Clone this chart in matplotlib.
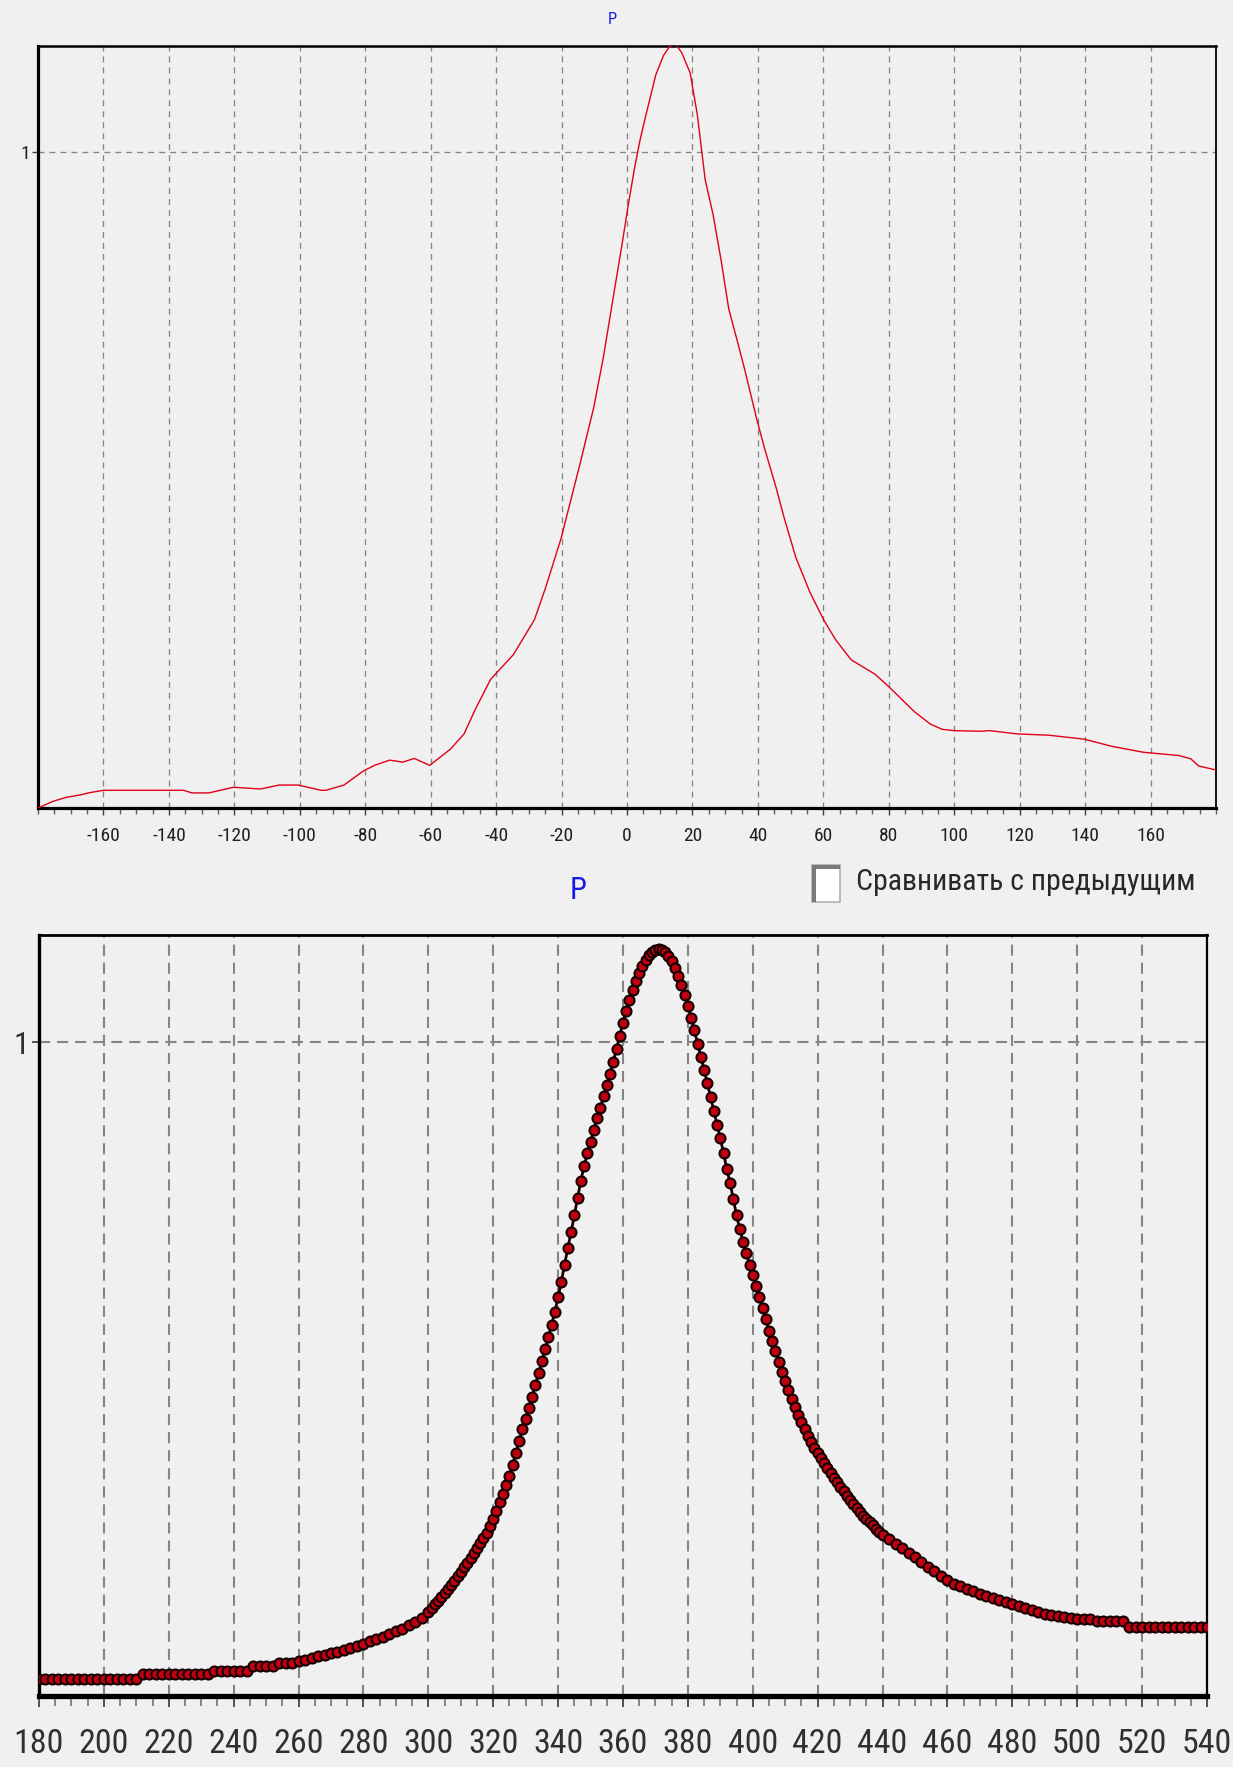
import matplotlib
matplotlib.use("Agg")
import matplotlib.pyplot as plt
from matplotlib import font_manager as fm
from matplotlib.font_manager import FontProperties
from matplotlib.patches import Rectangle
from matplotlib.ticker import MultipleLocator, FixedLocator

plt.rcParams['axes.unicode_minus'] = False
plt.rcParams['lines.scale_dashes'] = False

# ---------------- data: top panel (angle vs P) ----------------
top_x = [-180, -175.5, -171.6, -167, -164.6, -160, -150, -140, -135.5, -133,
         -127.8, -120.3, -112, -106.3, -100.5, -93.5, -92, -86.5, -80.7,
         -77.2, -72.5, -68.5, -65, -60.3, -53.9, -49.8, -46.3, -41.7, -34.7,
         -28.3, -24.8, -20.1, -14.3, -10.2, -7.3, -3.8, -1.5, 0.4, 2.2, 4,
         5.8, 8.8, 11.2, 13, 14.8, 16.7, 19.3, 21.5, 23.9, 26.3, 28.7, 31.1,
         33.5, 35.9, 39.6, 42, 45.6, 48, 51.6, 55.9, 60.1, 63.7, 68.5, 75.8,
         80, 87.8, 92.7, 96.3, 99.9, 108.3, 110.8, 119.2, 128.9, 139.7, 148.2,
         157.8, 168.7, 172.3, 174.7, 180]
top_p = [0.0, 0.010, 0.016, 0.020, 0.023, 0.027, 0.027, 0.027, 0.027, 0.023,
         0.023, 0.0316, 0.029, 0.035, 0.035, 0.027, 0.027, 0.035, 0.056,
         0.065, 0.073, 0.070, 0.0756, 0.065, 0.090, 0.113, 0.151, 0.196, 0.234,
         0.287, 0.337, 0.412, 0.526, 0.610, 0.685, 0.791, 0.860, 0.920, 0.973,
         1.019, 1.057, 1.118, 1.148, 1.161, 1.165, 1.152, 1.121, 1.057, 0.958,
         0.905, 0.837, 0.761, 0.716, 0.670, 0.594, 0.549, 0.488, 0.443, 0.382,
         0.329, 0.287, 0.257, 0.226, 0.204, 0.185, 0.147, 0.128, 0.120, 0.118,
         0.117, 0.118, 0.113, 0.111, 0.105, 0.094, 0.085, 0.080, 0.075, 0.064,
         0.058]

top_ticks = [-160, -140, -120, -100, -80, -60, -40, -20, 0, 20, 40, 60, 80,
             100, 120, 140, 160]

# ---------------- data: bottom panel (wavelength vs P) ----------------
bot_x = (list(range(180, 300, 2)) + list(range(300, 441, 1)) +
         list(range(442, 541, 2)))
bot_p = [
    # 180 .. 298 step 2
    0.026, 0.026, 0.026, 0.026, 0.026, 0.026, 0.026, 0.026, 0.026, 0.026,
    0.026, 0.026, 0.026, 0.026, 0.026, 0.026, 0.034, 0.034, 0.034, 0.034,
    0.034, 0.034, 0.034, 0.034, 0.034, 0.034, 0.034, 0.039, 0.039, 0.039,
    0.039, 0.039, 0.039, 0.046, 0.046, 0.046, 0.046, 0.050, 0.050, 0.050,
    0.053, 0.055, 0.058, 0.061, 0.063, 0.066, 0.068, 0.071, 0.074, 0.077,
    0.080, 0.084, 0.087, 0.091, 0.095, 0.099, 0.103, 0.108, 0.113, 0.119,
    # 300 .. 440 step 1
    0.128, 0.134, 0.140, 0.146, 0.152, 0.158, 0.164, 0.170, 0.176, 0.183,
    0.190, 0.197, 0.204, 0.211, 0.218, 0.226, 0.234, 0.242, 0.250, 0.260,
    0.271, 0.283, 0.296, 0.309, 0.322, 0.337, 0.354, 0.372, 0.390, 0.408,
    0.424, 0.441, 0.458, 0.476, 0.494, 0.512, 0.530, 0.549, 0.568, 0.588,
    0.610, 0.634, 0.660, 0.685, 0.710, 0.735, 0.762, 0.788, 0.810, 0.830,
    0.848, 0.866, 0.884, 0.900, 0.917, 0.934, 0.952, 0.970, 0.990, 1.010,
    1.030, 1.048, 1.064, 1.080, 1.094, 1.106, 1.117, 1.126, 1.133, 1.138,
    1.141, 1.142, 1.141, 1.138, 1.132, 1.124, 1.114, 1.102, 1.088, 1.072,
    1.055, 1.037, 1.018, 0.998, 0.978, 0.958, 0.937, 0.916, 0.895, 0.874,
    0.853, 0.830, 0.806, 0.785, 0.760, 0.735, 0.714, 0.695, 0.677, 0.660,
    0.644, 0.627, 0.610, 0.593, 0.576, 0.559, 0.543, 0.527, 0.511, 0.496,
    0.482, 0.468, 0.454, 0.442, 0.430, 0.419, 0.408, 0.398, 0.389, 0.380,
    0.372, 0.364, 0.356, 0.348, 0.341, 0.334, 0.327, 0.320, 0.313, 0.306,
    0.300, 0.294, 0.288, 0.282, 0.276, 0.271, 0.266, 0.261, 0.256, 0.251,
    0.247,
    # 442 .. 540 step 2
    0.240, 0.233, 0.226, 0.219, 0.212, 0.205, 0.198, 0.191, 0.184, 0.177,
    0.172, 0.168, 0.164, 0.160, 0.156, 0.153, 0.150, 0.147, 0.144, 0.141,
    0.138, 0.135, 0.132, 0.129, 0.126, 0.124, 0.122, 0.121, 0.119, 0.118,
    0.118, 0.118, 0.114, 0.114, 0.114, 0.114, 0.114, 0.106, 0.106, 0.106,
    0.106, 0.106, 0.106, 0.106, 0.106, 0.106, 0.106, 0.106, 0.106, 0.106,
]
bot_ticks = list(range(180, 541, 20))
checkbox_label = 'Сравнивать с предыдущим'


# ---------------- fonts: look for a narrow face ----------------
def find_narrow():
    prefs = ['Liberation Sans Narrow', 'Roboto Condensed', 'Open Sans Condensed',
             'Noto Sans', 'DejaVu Sans', 'Open Sans', 'Roboto', 'Lato', 'Inter']
    cands = []
    for f in fm.fontManager.ttflist:
        narrow = (str(f.stretch) in ('condensed', 'semi-condensed',
                                     'extra-condensed', 'ultra-condensed')
                  or 'Narrow' in f.name or 'Condensed' in f.name)
        if not narrow or f.style != 'normal':
            continue
        try:
            w = int(f.weight)
        except (TypeError, ValueError):
            w = 400 if str(f.weight) in ('normal', 'regular', 'book') else 700
        if w not in (400, 500):
            continue
        if 'Mono' in f.name or 'Serif' in f.name:
            continue
        rank = prefs.index(f.name) if f.name in prefs else len(prefs)
        cands.append((rank, str(f.stretch) != 'condensed', f.fname))
    if not cands:
        return None
    cands.sort()
    return cands[0][2]


NARROW_PATH = find_narrow()


def fp(size_narrow, size_regular):
    if NARROW_PATH:
        return FontProperties(fname=NARROW_PATH, size=size_narrow)
    return FontProperties(family=['Liberation Sans', 'DejaVu Sans'],
                          size=size_regular)


BG = '#f0f0f0'
GRID = '#858585'

W, H = 1233, 1767
fig = plt.figure(figsize=(W / 100, H / 100), dpi=100, facecolor=BG)


def frac_box(l, r, t, b):
    return [l / W, 1 - b / H, (r - l) / W, (b - t) / H]


# ---------------- top axes ----------------
ax1 = fig.add_axes(frac_box(38, 1216, 46, 808), facecolor=BG)
ax1.plot(top_x, top_p, color='#e00018', lw=1.0, zorder=3)
ax1.set_xlim(-180, 180)
ax1.set_ylim(0, 1.162)
ax1.xaxis.set_major_locator(FixedLocator(top_ticks))
ax1.xaxis.set_minor_locator(MultipleLocator(5))
ax1.set_xticklabels([str(t) for t in top_ticks], fontproperties=fp(14, 12.5),
                    color='#202020')
ax1.set_yticks([1])
ax1.set_yticklabels(['1'], fontproperties=fp(14, 12), color='#202020')
ax1.tick_params(axis='x', which='major', direction='out', length=5, width=1,
                color='#404040', pad=9)
ax1.tick_params(axis='x', which='minor', direction='out', length=4, width=1,
                color='#606060')
ax1.tick_params(axis='y', direction='out', length=4, width=1, pad=2,
                color='#404040')
ax1.grid(True, which='major', color=GRID, lw=0.95, ls=(0, (4.3, 3.6)))
for s, w in (('left', 2.3), ('bottom', 2.3), ('top', 1.8), ('right', 1.3)):
    ax1.spines[s].set_linewidth(w)
    ax1.spines[s].set_color('black')
fig.text(612 / W, 1 - 19 / H, 'P', ha='center', va='center', color='#1a1ae6',
         fontproperties=fp(12, 11))

# ---------------- checkbox + label ----------------
fig.add_artist(Rectangle((812 / W, 1 - 902 / H), 28 / W, 37 / H,
                         transform=fig.transFigure, facecolor='white',
                         edgecolor='#b0b0b0', lw=1.2))
fig.add_artist(Rectangle((812 / W, 1 - 902 / H), 4 / W, 37 / H,
                         transform=fig.transFigure, facecolor='#7a7a7a',
                         edgecolor='none'))
fig.add_artist(Rectangle((812 / W, 1 - 869 / H), 28 / W, 4 / H,
                         transform=fig.transFigure, facecolor='#7a7a7a',
                         edgecolor='none'))
fig.text(856 / W, 1 - 882 / H, checkbox_label, ha='left', va='center',
         color='#282828', fontproperties=fp(21.5, 17.5))

# ---------------- bottom axes ----------------
ax2 = fig.add_axes(frac_box(39, 1207, 935, 1696), facecolor=BG)
ax2.plot(bot_x, bot_p, color='#200000', lw=2.0, marker='o', ms=7.2,
         mfc='#c00010', mec='#140000', mew=1.5, zorder=3)
ax2.set_xlim(180, 540)
ax2.set_ylim(0, 1.164)
ax2.xaxis.set_major_locator(FixedLocator(bot_ticks))
ax2.xaxis.set_minor_locator(MultipleLocator(5))
ax2.set_xticklabels([str(t) for t in bot_ticks], fontproperties=fp(24.5, 19),
                    color='#303030')
ax2.set_yticks([1])
ax2.set_yticklabels(['1'], fontproperties=fp(23, 19), color='#303030')
ax2.tick_params(axis='x', which='major', direction='out', length=8, width=1.4,
                color='#505050', pad=15)
ax2.tick_params(axis='x', which='minor', direction='out', length=7, width=1.2,
                color='#707070')
ax2.tick_params(axis='y', direction='out', length=5, width=1.4, pad=2,
                color='#505050')
ax2.grid(True, which='major', color=GRID, lw=1.5, ls=(0, (8, 5)))
for s, w in (('left', 2.4), ('bottom', 3.8), ('top', 2.0), ('right', 1.6)):
    ax2.spines[s].set_linewidth(w)
    ax2.spines[s].set_color('black')
fig.text(578 / W, 1 - 890 / H, 'P', ha='center', va='center', color='#1a1ae6',
         fontproperties=fp(22, 20))

fig.savefig('out.png', dpi=100, facecolor=BG)
